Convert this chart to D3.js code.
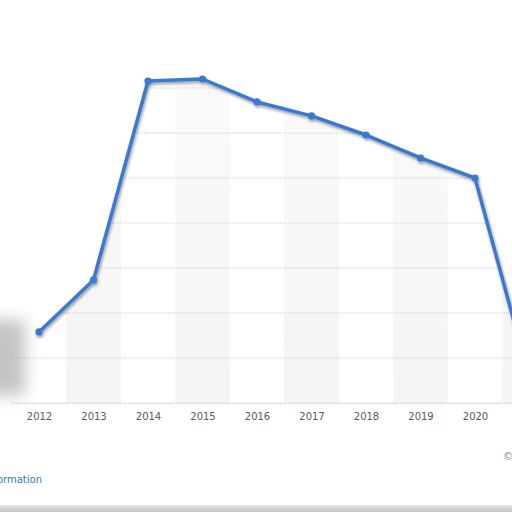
<!DOCTYPE html>
<html>
<head>
<meta charset="utf-8">
<script src="https://cdn.jsdelivr.net/npm/d3@7"></script>
<style>
  html, body { margin: 0; padding: 0; background: #fff; overflow: hidden; }
  svg { display: block; }
</style>
</head>
<body>
<svg width="512" height="512"></svg>
<script>
// values (no y labels visible, units are gridline steps of 20)
const years = [2012, 2013, 2014, 2015, 2016, 2017, 2018, 2019, 2020, 2021];
const values = [31.6, 54.7, 143.1, 144.0, 133.8, 127.6, 119.1, 108.9, 100.0, 11.0];
const yTicks = [0, 20, 40, 60, 80, 100, 120, 140];
const bandYears = [2013, 2015, 2017, 2019, 2021];

const svg = d3.select("svg"),
    width = +svg.attr("width"),
    height = +svg.attr("height"),
    plotLeft = 12,
    plotRight = 530;

const scaleX = d3.scaleLinear()
    .domain([2012, 2020])
    .range([39, 475]);

const scaleY = d3.scaleLinear()
    .domain([0, 160])
    .range([403, 43]);

const step = scaleX(2013) - scaleX(2012);

const defs = svg.append("defs");

let shadow = defs.append("filter")
    .attr("id", "shadow")
    .attr("x", "-20%").attr("y", "-20%")
    .attr("width", "140%").attr("height", "140%");
shadow.append("feDropShadow")
    .attr("dx", 1).attr("dy", 2)
    .attr("stdDeviation", 1.5)
    .attr("flood-color", "#000")
    .attr("flood-opacity", 0.4);

defs.append("filter")
    .attr("id", "blur")
    .attr("x", "-100%").attr("y", "-100%")
    .attr("width", "300%").attr("height", "300%")
    .append("feGaussianBlur")
    .attr("stdDeviation", 8);

let bandGrad = defs.append("linearGradient")
    .attr("id", "bandGrad")
    .attr("x1", 0).attr("y1", 0).attr("x2", 0).attr("y2", 1);
bandGrad.append("stop").attr("offset", "0%").attr("stop-color", "#fbfbfb");
bandGrad.append("stop").attr("offset", "100%").attr("stop-color", "#f4f4f4");

let barGrad = defs.append("linearGradient")
    .attr("id", "barGrad")
    .attr("x1", 0).attr("y1", 0).attr("x2", 0).attr("y2", 1);
barGrad.append("stop").attr("offset", "0%").attr("stop-color", "#e6e6e6");
barGrad.append("stop").attr("offset", "100%").attr("stop-color", "#c4c4c4");

// area under the line, extended to the left edge of the plot
const areaPts = [[plotLeft, scaleY(values[0])]]
    .concat(years.map((y, i) => [scaleX(y), scaleY(values[i])]));
const area = d3.area()
    .x(d => d[0])
    .y0(scaleY(0))
    .y1(d => d[1]);

defs.append("clipPath")
    .attr("id", "underLine")
    .append("path")
    .attr("d", area(areaPts));

const plot = svg.append("g").attr("clip-path", "url(#underLine)");

plot.selectAll(".band")
    .data(bandYears)
    .enter()
    .append("rect")
    .attr("x", d => scaleX(d) - step / 2)
    .attr("y", scaleY(160))
    .attr("width", step)
    .attr("height", scaleY(0) - scaleY(160))
    .style("fill", "url(#bandGrad)");

plot.selectAll(".grid")
    .data(yTicks)
    .enter()
    .append("line")
    .attr("x1", plotLeft)
    .attr("x2", plotRight)
    .attr("y1", d => scaleY(d))
    .attr("y2", d => scaleY(d))
    .style("stroke", "#cccccc")
    .style("stroke-width", 1)
    .style("stroke-dasharray", "1,1");

// baseline
svg.append("line")
    .attr("x1", plotLeft)
    .attr("x2", width)
    .attr("y1", scaleY(0) + 0.5)
    .attr("y2", scaleY(0) + 0.5)
    .style("stroke", "#cccccc")
    .style("stroke-dasharray", "1,1");

// soft shadow blob on the left
svg.append("rect")
    .attr("x", -15)
    .attr("y", 320)
    .attr("width", 40)
    .attr("height", 75)
    .style("fill", "#888")
    .style("opacity", 0.5)
    .attr("filter", "url(#blur)");

// x axis labels
const axisX = d3.axisBottom(scaleX)
    .tickValues(years.slice(0, 9))
    .tickFormat(d3.format("d"))
    .tickSize(0)
    .tickPadding(10);

let gx = svg.append("g")
    .attr("transform", `translate(0, ${scaleY(0)})`)
    .call(axisX);
gx.select(".domain").remove();
gx.selectAll("text")
    .style("font-family", "DejaVu Sans")
    .style("font-size", "10px")
    .style("fill", "#5a5a5a");

// the line
const line = d3.line()
    .x((d, i) => scaleX(years[i]))
    .y(d => scaleY(d));

let lineG = svg.append("g").attr("filter", "url(#shadow)");

lineG.append("path")
    .datum(values)
    .attr("d", line)
    .style("fill", "none")
    .style("stroke", "#3a78d2")
    .style("stroke-width", 3.5)
    .style("stroke-linejoin", "round");

lineG.selectAll(".dot")
    .data(values)
    .enter()
    .append("circle")
    .attr("cx", (d, i) => scaleX(years[i]))
    .attr("cy", d => scaleY(d))
    .attr("r", 3.6)
    .style("fill", "#3a78d2");

// footer (cut off at the edges, as in the picture)
svg.append("text")
    .attr("x", 42)
    .attr("y", 483)
    .attr("text-anchor", "end")
    .style("font-family", "DejaVu Sans")
    .style("font-size", "10px")
    .style("fill", "#2f7ab8")
    .text("Additional Information");

svg.append("text")
    .attr("x", 503)
    .attr("y", 460)
    .style("font-family", "DejaVu Sans")
    .style("font-size", "10px")
    .style("fill", "#7a8a9a")
    .text("© Statista 2021");

svg.append("rect")
    .attr("x", 0)
    .attr("y", 505)
    .attr("width", width)
    .attr("height", 7)
    .style("fill", "url(#barGrad)");
</script>
</body>
</html>
